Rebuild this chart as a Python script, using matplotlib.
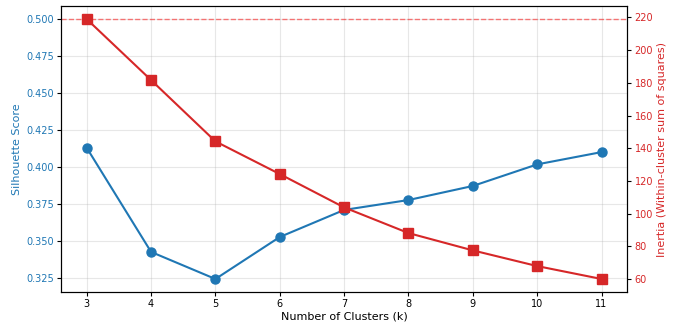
import numpy as np
import matplotlib
matplotlib.use("Agg")
import matplotlib.pyplot as plt

# values
k_values = [3, 4, 5, 6, 7, 8, 9, 10, 11]
silhouette = [0.413, 0.3426, 0.3243, 0.3527, 0.371, 0.3777, 0.3872, 0.4018, 0.4101]
inertia = [219.0, 181.7, 144.2, 124.2, 103.8, 88.1, 77.5, 67.9, 60.0]
threshold = 0.5

plt.rcParams['xtick.major.size'] = 2.6
plt.rcParams['ytick.major.size'] = 2.6
plt.rcParams['xtick.major.pad'] = 2.6
plt.rcParams['ytick.major.pad'] = 2.6

fig, ax1 = plt.subplots(figsize=(6.97, 3.23), dpi=100)
fig.subplots_adjust(left=0.0875, right=0.9, top=0.981, bottom=0.096)

c1 = 'tab:blue'
c2 = 'tab:red'

ax1.set_xlabel('Number of Clusters (k)', fontsize=8, labelpad=1.5)
ax1.set_ylabel('Silhouette Score', color=c1, fontsize=8, labelpad=3)
ax1.plot(k_values, silhouette, 'o-', color=c1, linewidth=1.5, markersize=6.5)
ax1.tick_params(axis='y', labelcolor=c1, labelsize=7)
ax1.tick_params(axis='x', labelsize=7)
ax1.axhline(y=threshold, color='red', linestyle='--', alpha=0.5, linewidth=1)
ax1.grid(True, alpha=0.3)
ax1.set_xticks(k_values)

ax2 = ax1.twinx()
ax2.set_ylabel('Inertia (Within-cluster sum of squares)', color=c2, fontsize=8, labelpad=3)
ax2.plot(k_values, inertia, 's-', color=c2, linewidth=1.5, markersize=6.5)
ax2.tick_params(axis='y', labelcolor=c2, labelsize=7)

plt.savefig('out.png', dpi=100)
